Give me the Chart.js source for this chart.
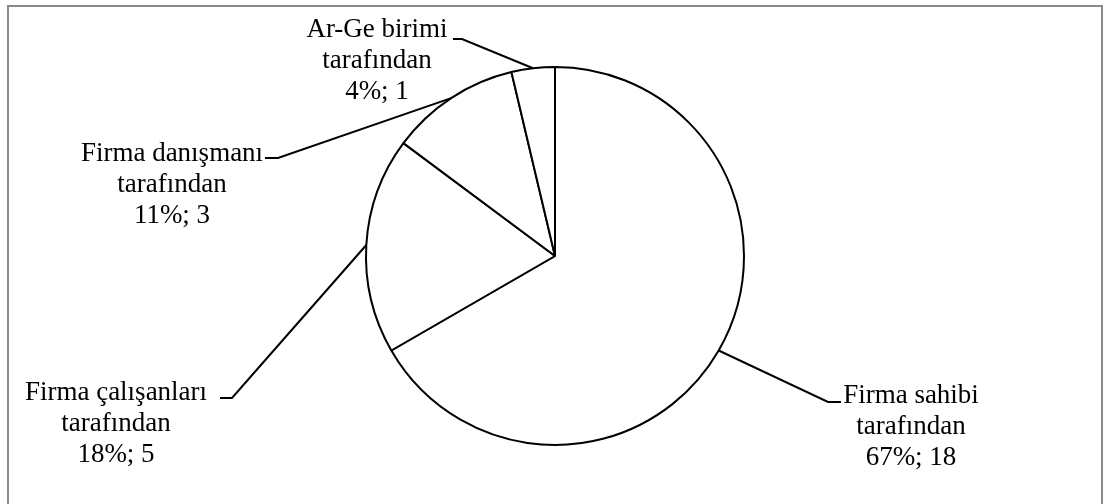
<!DOCTYPE html>
<html>
<head>
<meta charset="utf-8">
<script src="https://cdn.jsdelivr.net/npm/chart.js@4.4.0/dist/chart.umd.min.js"></script>
<style>
body { margin: 0; background: #fff; }
canvas { display: block; }
</style>
</head>
<body>
<canvas id="pie-chart" width="1103" height="504"></canvas>
<script>
var categories = [
    ['Firma sahibi', 'tarafından'],
    ['Firma çalışanları', 'tarafından'],
    ['Firma danışmanı', 'tarafından'],
    ['Ar-Ge birimi', 'tarafından']
];
var counts = [18, 5, 3, 1];

// label placement: elbow of leader, end of short tick, text centre and first baseline
var labelLayout = [
    {elbow: [828, 402], tick: [841, 402], textX: 911, baseY: 403},
    {elbow: [232, 398], tick: [220, 398], textX: 116, baseY: 400},
    {elbow: [278, 158], tick: [265, 158], textX: 172, baseY: 161},
    {elbow: [462, 39], tick: [453, 39], textX: 377, baseY: 37}
];

// rounded so they add up to 100 (largest remainder)
function percents(values) {
    var total = values.reduce(function (a, b) { return a + b; }, 0);
    var raw = values.map(function (v) { return v * 100 / total; });
    var out = raw.map(Math.floor);
    var left = 100 - out.reduce(function (a, b) { return a + b; }, 0);
    var order = raw.map(function (r, i) { return i; }).sort(function (a, b) {
        return (raw[b] - out[b]) - (raw[a] - out[a]);
    });
    for (var k = 0; k < left; k++) out[order[k]]++;
    return out;
}

var frame = {
    id: 'frame',
    beforeDraw: function (chart) {
        var ctx = chart.ctx;
        ctx.save();
        ctx.fillStyle = '#fff';
        ctx.fillRect(0, 0, chart.width, chart.height);
        ctx.strokeStyle = '#8a8a8a';
        ctx.lineWidth = 2;
        ctx.strokeRect(8, 6, 1094, 520);
        ctx.restore();
    }
};

var leaderLabels = {
    id: 'leaderLabels',
    afterDraw: function (chart) {
        var ctx = chart.ctx;
        var meta = chart.getDatasetMeta(0);
        var pct = percents(counts);
        ctx.save();
        ctx.strokeStyle = '#000';
        ctx.lineWidth = 2;
        ctx.fillStyle = '#000';
        ctx.font = '27px "Liberation Serif", "Times New Roman", serif';
        ctx.textAlign = 'center';
        ctx.textBaseline = 'alphabetic';
        meta.data.forEach(function (arc, i) {
            var p = arc.getProps(['x', 'y', 'startAngle', 'endAngle', 'outerRadius'], true);
            var mid = (p.startAngle + p.endAngle) / 2;
            var ex = p.x + Math.cos(mid) * p.outerRadius;
            var ey = p.y + Math.sin(mid) * p.outerRadius;
            var lay = labelLayout[i];
            ctx.beginPath();
            ctx.moveTo(ex, ey);
            ctx.lineTo(lay.elbow[0], lay.elbow[1]);
            ctx.lineTo(lay.tick[0], lay.tick[1]);
            ctx.stroke();
            var lines = categories[i].concat([pct[i] + '%; ' + counts[i]]);
            lines.forEach(function (t, j) {
                ctx.fillText(t, lay.textX, lay.baseY + j * 31);
            });
        });
        ctx.restore();
    }
};

window.onload = function () {
    var ctx = document.getElementById('pie-chart');
    new Chart(ctx, {
        type: 'pie',
        data: {
            labels: categories,
            datasets: [{
                data: counts,
                backgroundColor: '#ffffff',
                borderColor: '#000000',
                borderWidth: 2,
                radius: 189
            }]
        },
        options: {
            responsive: false,
            animation: false,
            layout: {padding: {left: 57, right: 50, top: 28, bottom: 20}},
            plugins: {
                legend: {display: false},
                tooltip: {enabled: false}
            }
        },
        plugins: [frame, leaderLabels]
    });
};
</script>
</body>
</html>
